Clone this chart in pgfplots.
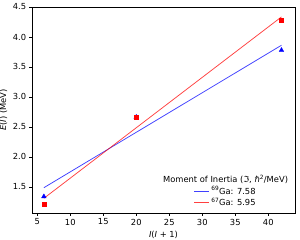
\documentclass[border=0pt]{standalone}
\usepackage{pgfplots}
\pgfplotsset{compat=1.18}
\usepackage{fontspec}
\setmainfont{DejaVu Sans}
\begin{document}
\fontsize{10}{12}\selectfont
\begin{tikzpicture}
\useasboundingbox (-38.4pt,-32.4pt) rectangle (321.6pt,255.6pt);
\begin{axis}[
  at={(0pt,0pt)}, anchor=origin,
  scale only axis,
  width=315.6pt, height=247.2pt,
  xmin=4.2, xmax=44.05,
  ymin=1.065, ymax=4.5,
  xtick={5,10,15,20,25,30,35,40},
  ytick={1.5,2.0,2.5,3.0,3.5,4.0,4.5},
  yticklabel style={/pgf/number format/.cd,fixed,fixed zerofill,precision=1},
  /pgf/number format/assume math mode=true,
  tick pos=left,
  tick align=outside,
  major tick length=3.5pt,
  every tick/.style={black, line width=0.8pt},
  axis line style={line width=0.8pt},
  tick label style={font=\fontsize{10}{12}\selectfont},
  label style={font=\fontsize{10}{12}\selectfont},
  xlabel={\textit{I}(\textit{I} + 1)},
  ylabel={\textit{E}(\textit{I}) (MeV)},
  legend style={draw=none, fill=none, at={(0.736,0.080)}, anchor=center,
    font=\fontsize{10}{12}\selectfont, row sep=-1pt},
  legend cell align=left,
  legend image code/.code={\draw[#1] (0pt,0pt) -- (18pt,0pt);},
]
\addplot[only marks, mark=triangle*, mark size=3.2pt, color=blue, forget plot]
  coordinates {(6,1.34) (20,2.665) (42,3.78)};
\addplot[only marks, mark=square*, mark size=2.6pt, color=red, forget plot]
  coordinates {(6,1.21) (20,2.66) (42,4.28)};
\addplot[color=blue, line width=0.9pt, opacity=0.75]
  coordinates {(6,1.487) (42,3.862)};
\addlegendentry{\textsuperscript{69}Ga: 7.58}
\addplot[color=red, line width=0.9pt, opacity=0.75]
  coordinates {(6,1.310) (42,4.335)};
\addlegendentry{\textsuperscript{67}Ga: 5.95}
\node[anchor=center, font=\fontsize{10}{12}\selectfont] at (rel axis cs:0.736,0.165)
  {Moment of Inertia (ℑ, ℏ\textsuperscript{2}/MeV)};
\end{axis}
\end{tikzpicture}
\end{document}
